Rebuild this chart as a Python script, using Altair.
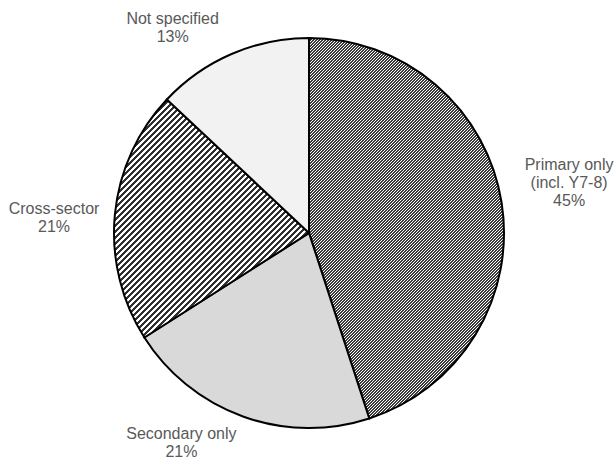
import math

import altair as alt
import pandas as pd

# Share of respondents by phase taught
categories = ["Primary only\n(incl. Y7-8)", "Secondary only", "Cross-sector", "Not specified"]
shares = [45, 21, 21, 13]

df = pd.DataFrame({
    "order": list(range(len(categories))),
    "category": categories,
    "share": shares,
})
df["label"] = [f"{c}\n{s}%" for c, s in zip(categories, shares)]

R = 195  # outer radius = min(width, height) / 2
LINE_H = 18


def wedge_box(f0, f1, r):
    """Width and height of a pie wedge's bounding box (fractions of a turn, clockwise from north)."""
    a0, a1 = f0 * 2 * math.pi, f1 * 2 * math.pi
    angles = [a0, a1] + [k * math.pi / 2 for k in range(5) if a0 < k * math.pi / 2 < a1]
    xs = [0.0] + [r * math.sin(a) for a in angles]
    ys = [0.0] + [-r * math.cos(a) for a in angles]
    return max(xs) - min(xs), max(ys) - min(ys)


def hatch(w, h, period, duty, dark, light="#ffffff"):
    """45-degree '/' hatching built as a hard-stop linear gradient over a w x h box."""
    total = w + h
    stops = []
    k = 0
    while k * period < total:
        o0 = k * period / total
        o1 = min((k + duty) * period / total, 1)
        o2 = min((k + 1) * period / total, 1)
        stops += [
            alt.GradientStop(offset=o0, color=dark),
            alt.GradientStop(offset=o1, color=dark),
            alt.GradientStop(offset=o1, color=light),
            alt.GradientStop(offset=o2, color=light),
        ]
        k += 1
    s = total / (w * w + h * h)
    return alt.LinearGradient(
        gradient="linear", stops=stops, x1=0, y1=0, x2=w * s, y2=h * s
    )


cum = [sum(shares[:i]) / 100 for i in range(len(shares) + 1)]
boxes = [wedge_box(cum[i], cum[i + 1], R) for i in range(len(shares))]

fills = [
    hatch(*boxes[0], period=3, duty=0.42, dark="#3a3a3a"),
    "#d9d9d9",
    hatch(*boxes[2], period=6, duty=0.5, dark="#303030"),
    "#f2f2f2",
]

# nudges that put each label just outside its slice (block centred on the anchor)
label_offsets = [(28, -13), (-48, -11), (-21, 7), (-43, 11)]
line_counts = [lbl.count("\n") + 1 for lbl in df["label"]]

theta_scale = alt.Scale(domain=[0, 100], range=[0, 2 * math.pi])

base = alt.Chart(df).transform_window(
    end="sum(share)", sort=[alt.SortField("order")], frame=[None, 0]
).transform_calculate(
    start="datum.end - datum.share",
    mid="datum.end - datum.share / 2",
)

arcs = [
    base.transform_filter(alt.datum.order == i)
    .mark_arc(fill=fills[i], stroke="#000000", strokeWidth=2)
    .encode(
        theta=alt.Theta("start:Q", scale=theta_scale),
        theta2="end:Q",
    )
    for i in range(len(categories))
]

texts = [
    base.transform_filter(alt.datum.order == i)
    .mark_text(
        font="Liberation Sans",
        fontSize=16,
        lineHeight=LINE_H,
        color="#595959",
        lineBreak="\n",
        radius=235,
        dx=label_offsets[i][0],
        dy=label_offsets[i][1] - (line_counts[i] - 1) * LINE_H / 2,
    )
    .encode(
        theta=alt.Theta("mid:Q", scale=theta_scale),
        text="label:N",
    )
    for i in range(len(categories))
]

chart = alt.layer(*arcs, *texts).properties(
    width=2 * R,
    height=2 * R,
    padding={"left": 114, "top": 38, "right": 111, "bottom": 33},
    autosize=alt.AutoSizeParams(type="none"),
    background="#ffffff",
).configure_view(stroke=None)

chart.save("out.html", embed_options={"renderer": "svg", "actions": False})
